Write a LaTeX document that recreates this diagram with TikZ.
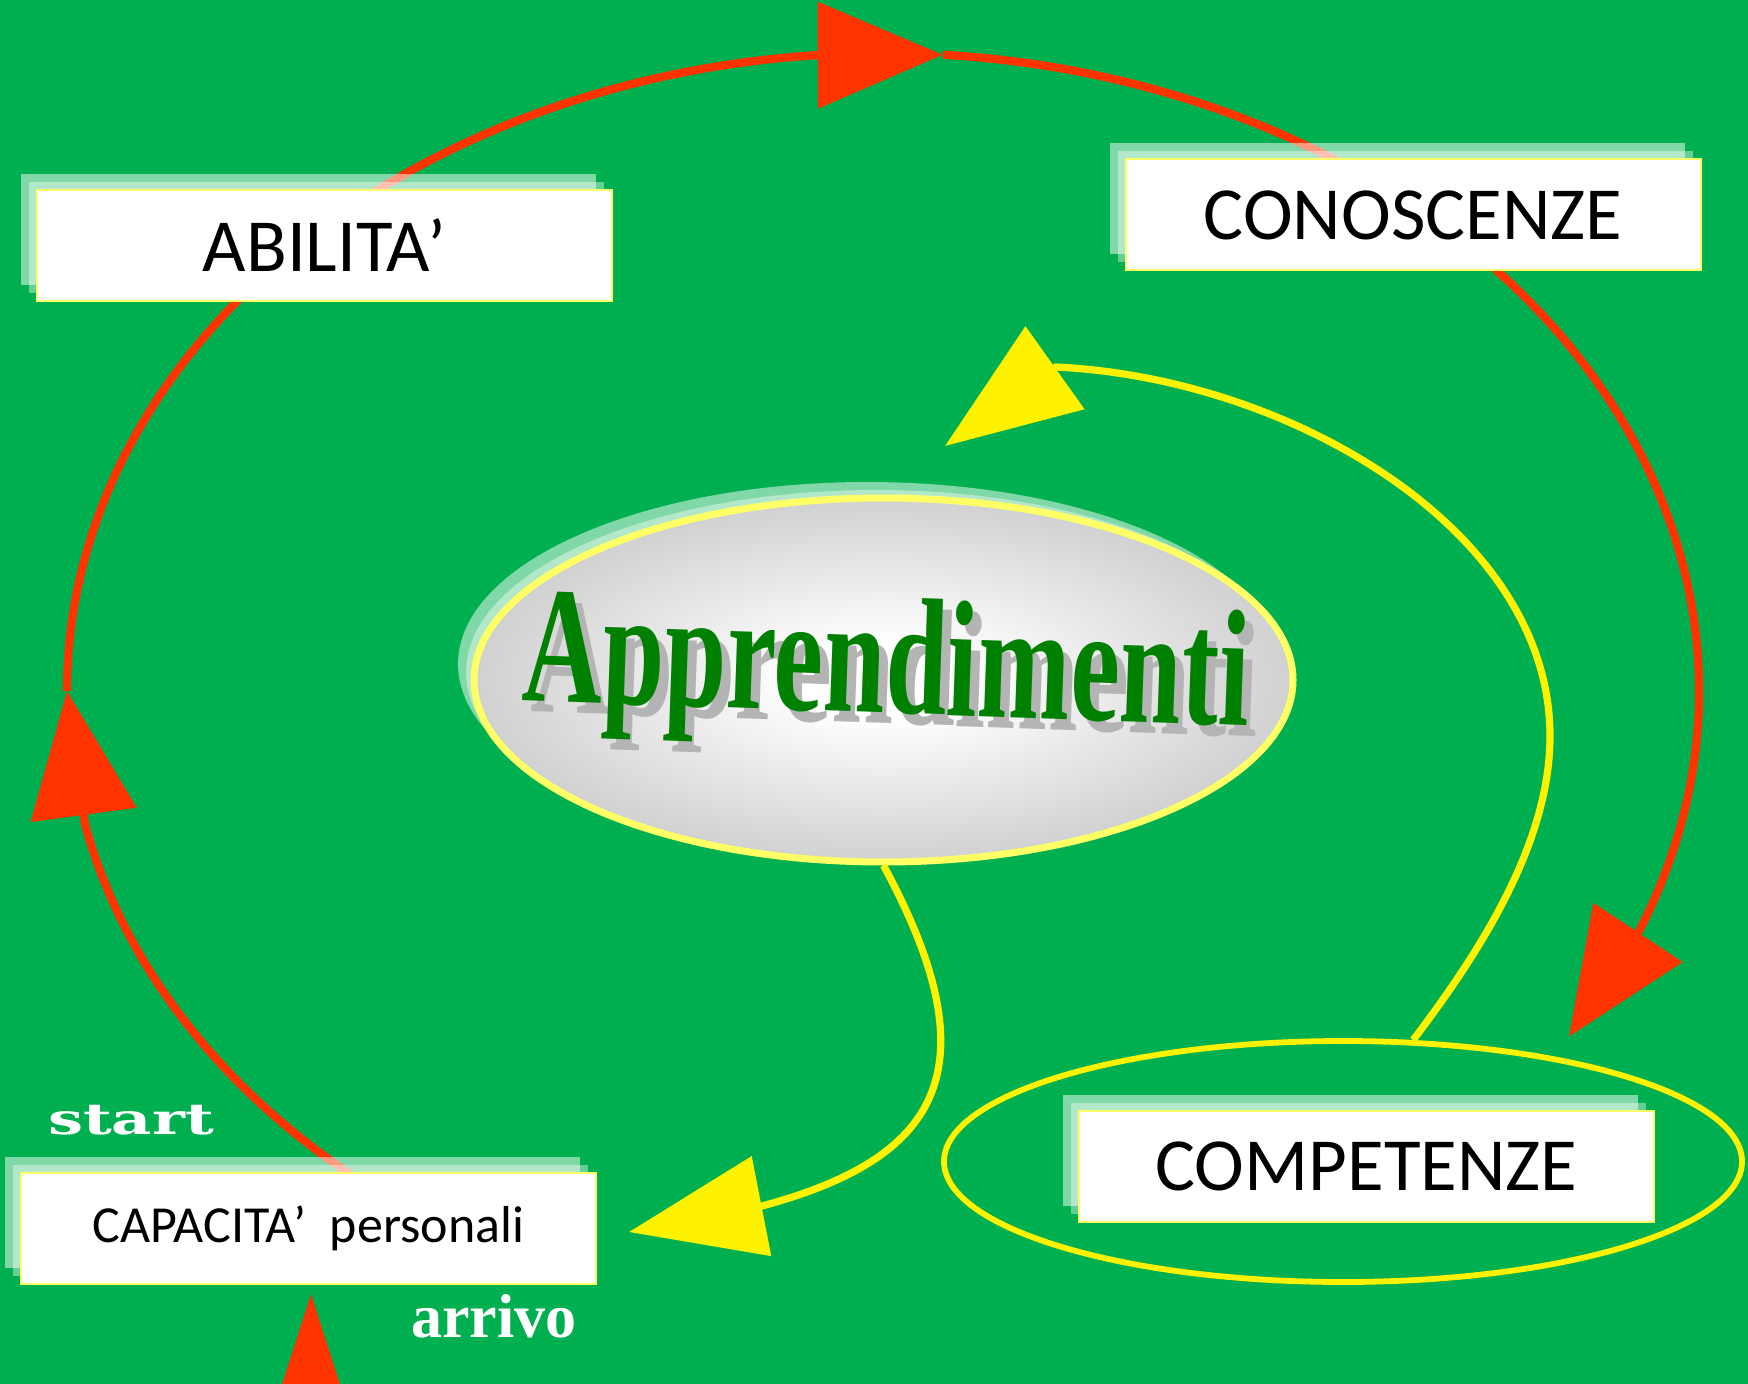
\documentclass[tikz,border=0pt]{standalone}
\usepackage{fontspec}
\setmainfont{Liberation Serif}
\newfontfamily\boxfont{Carlito}
\newfontfamily\startfont{DejaVu Serif}
\usetikzlibrary{arrows.meta,shapes.geometric,shadows}

\definecolor{bggreen}{RGB}{0,176,80}
\definecolor{loopred}{RGB}{255,51,0}
\definecolor{paleyellow}{RGB}{255,255,102}
\definecolor{wordgreen}{RGB}{0,128,0}
\definecolor{wordgrey}{RGB}{180,180,180}
\definecolor{ellgrey}{RGB}{190,190,190}

\pgfdeclareradialshading{apprshade}{\pgfpoint{0bp}{0bp}}{color(0bp)=(white); color(5bp)=(white); color(33bp)=(ellgrey); color(50bp)=(ellgrey)}

\tikzset{
  layered/.style={
    general shadow={shadow xshift=-8pt,shadow yshift=8pt,fill=white,fill opacity=0.5},
    general shadow={shadow xshift=-4pt,shadow yshift=4pt,fill=white,fill opacity=0.4}},
  labelbox/.style={layered,draw=paleyellow,line width=1pt,fill=white,inner sep=0pt,
    minimum width=287.5pt,minimum height=55.5pt,font=\boxfont\fontsize{37.5}{40}\selectfont},
  redline/.style={draw=loopred,line width=4.1pt},
  yelline/.style={draw=yellow,line width=3.6pt},
  redtip/.style={-{Triangle[length=62.5pt,width=52.5pt]}},
  yeltip/.style={-{Triangle[length=67.5pt,width=50pt]}}
}

\begin{document}
\begin{tikzpicture}[x=0.5pt,y=-0.5pt]
%set diagram size 1748 x 1384
\useasboundingbox (0,0) rectangle (1748,1384);
\fill[bggreen] (0,0) rectangle (1748,1384);

%Red loop (behind the boxes)
\coordinate (loopc) at (883,691);
\coordinate (loop-capa) at ([shift={(128:816 and 638)}]loopc);
\coordinate (loop-abil) at ([shift={(225:816 and 638)}]loopc);
\coordinate (loop-cono) at ([shift={(311:816 and 638)}]loopc);
\coordinate (rtip-left) at ([shift={(180:816 and 638)}]loopc);
\coordinate (rtip-top) at ([shift={(274.2:816 and 638)}]loopc);
\coordinate (rtip-right) at ([shift={(32.8:816 and 638)}]loopc);
\draw[redline,redtip] (loop-capa) arc[start angle=128,end angle=168,x radius=816,y radius=638] -- (rtip-left);
\draw[redline] (rtip-left) arc[start angle=180,end angle=225,x radius=816,y radius=638];
\draw[redline,redtip] (loop-abil) arc[start angle=225,end angle=265.3,x radius=816,y radius=638] -- (rtip-top);
\draw[redline] (rtip-top) arc[start angle=274.2,end angle=311,x radius=816,y radius=638];
\draw[redline,redtip] (loop-cono) arc[start angle=311,end angle=382,x radius=816,y radius=638] -- (rtip-right);
%Red arrow from below
\coordinate (rfoot) at (311,1420);
\coordinate (rtip-capa) at (311,1294);
\draw[redline,-{Triangle[length=62.5pt,width=39pt]}] (rfoot) -- (rtip-capa);

%Shape: Ellipses
\node[layered,ellipse,draw=paleyellow,line width=3.5pt,shade,shading=apprshade,
  minimum width=409.5pt,minimum height=182pt,inner sep=0pt] (appr) at (883.5,680) {};
\node[ellipse,draw=yellow,line width=2.9pt,minimum width=399pt,minimum height=120.5pt,inner sep=0pt] (compell) at (1343,1161.5) {};

%Boxes
\node[labelbox] (abilita) at (324.5,245.5) {ABILITA’};
\node[labelbox] (conoscenze) at (1413,215) {CONOSCENZE};
\node[labelbox] (competenze) at (1366.5,1166.5) {COMPETENZE};
\node[labelbox,font=\boxfont\fontsize{26}{28}\selectfont] (capacita) at (308.5,1228) {CAPACITA’\hspace{0.45em}personali};

%Yellow curves
\coordinate (ybase-capa) at (762,1206);
\coordinate (ytip-capa) at (629,1232);
\draw[yelline,yeltip] (appr.south) .. controls (996,1073) and (936,1159) .. (ybase-capa) -- (ytip-capa);
\coordinate (ybase-appr) at (1056,367);
\coordinate (ytip-appr) at (945,446);
\draw[yelline,yeltip] (compell.60) .. controls (1476,957) and (1550,846) .. (1550,736)
  .. controls (1550,530) and (1290,378) .. (ybase-appr) -- (ytip-appr);

% Text Node
\node[font=\bfseries\fontsize{83}{90}\selectfont,text=wordgrey,anchor=base,rotate=-2,xscale=0.67] (apprshadow) at (894,724) {Apprendimenti};
\node[font=\bfseries\fontsize{83}{90}\selectfont,text=wordgreen,anchor=base,rotate=-2,xscale=0.67] (apprtext) at (885,713) {Apprendimenti};
% Text Node
\node[font=\startfont\bfseries\fontsize{21.5}{24}\selectfont,text=white,anchor=base,xscale=1.45] (startlbl) at (131,1134) {start};
% Text Node
\node[font=\bfseries\fontsize{31}{34}\selectfont,text=white,anchor=base] (arrivolbl) at (494,1337) {arrivo};

\end{tikzpicture}
\end{document}
